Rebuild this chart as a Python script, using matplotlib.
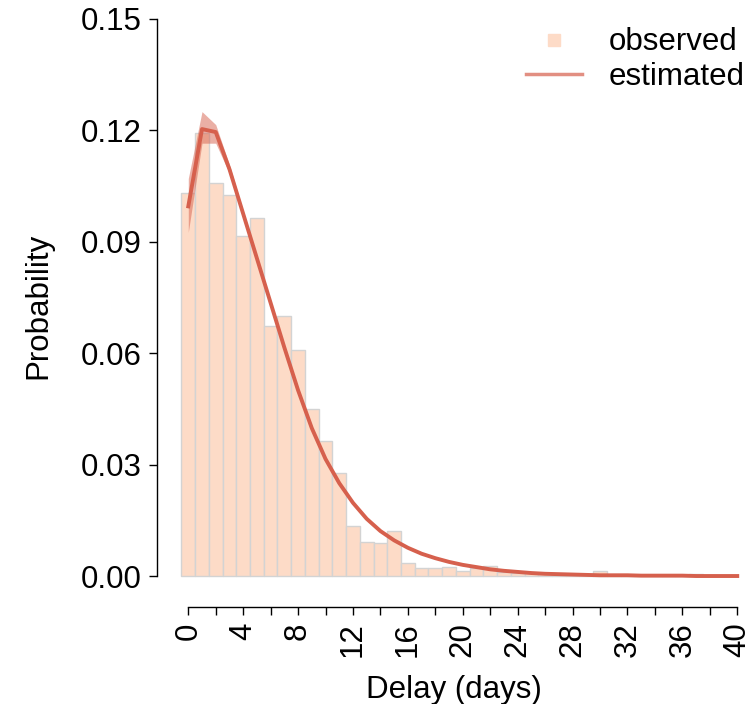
import matplotlib
matplotlib.use('Agg')
import matplotlib.pyplot as plt
from matplotlib.lines import Line2D
import numpy as np

plt.rcParams['font.family'] = ['Liberation Sans', 'DejaVu Sans']

# observed delay distribution (one bar per day)
days_obs = np.arange(0, 39)
observed = [0.1031, 0.1192, 0.1059, 0.1026, 0.0914, 0.0963, 0.0674, 0.0701,
            0.0609, 0.0449, 0.0364, 0.0278, 0.0135, 0.0091, 0.0088, 0.0120,
            0.0036, 0.0022, 0.0021, 0.0023, 0.0013, 0.0021, 0.0027, 0.0012,
            0.0009, 0.0007, 0.0005, 0.0004, 0.0003, 0.0003, 0.0014, 0.0002,
            0.0002, 0.0001, 0.0001, 0.0002, 0.0002, 0.0005, 0.0002]

# estimated distribution, evaluated on integer days
days_est = np.arange(0, 41)
estimated = [0.0995, 0.1203, 0.1195, 0.1095, 0.0975, 0.0855, 0.0735, 0.0615,
             0.0500, 0.0398, 0.0315, 0.0250, 0.0197, 0.0154, 0.0121, 0.0096,
             0.0076, 0.0060, 0.0048, 0.0038, 0.0030, 0.0024, 0.0018, 0.0014,
             0.0011, 0.0008, 0.0006, 0.0005, 0.0004, 0.0003, 0.0002, 0.0002,
             0.0002, 0.0001, 0.0001, 0.0001, 0.0001, 0.0000, 0.0000, 0.0000,
             0.0000]

# uncertainty band (only visible over the first days)
days_band = np.arange(0, 6)
band_low = [0.0925, 0.1165, 0.1165, 0.1083, 0.0967, 0.0849]
band_high = [0.1070, 0.1250, 0.1215, 0.1107, 0.0983, 0.0861]

y_ticks = [0.00, 0.03, 0.06, 0.09, 0.12, 0.15]
x_ticks = np.arange(0, 41, 2)

cor_barra = '#FDDBC7'
cor_linha = '#D6604D'

fig = plt.figure(figsize=(7.51, 7.04), dpi=100)
ax = fig.add_axes([157 / 751, (704 - 607) / 704, (750 - 157) / 751, (607 - 5) / 704])

ax.bar(days_obs, observed, width=1.0, color=cor_barra, edgecolor='#D3D3D3',
       linewidth=1.0, zorder=1)
ax.fill_between(days_band, band_low, band_high, color=cor_linha, alpha=0.5,
                linewidth=0, zorder=2)
ax.plot(days_est, estimated, color=cor_linha, linewidth=2.8, zorder=3)

ax.set_xlim(-2.28, 40.93)
ax.set_ylim(-0.00834, 0.1537)

# eixos no estilo do R (destacados)
for lado in ['top', 'right']:
    ax.spines[lado].set_visible(False)
ax.spines['left'].set_bounds(0, 0.15)
ax.spines['bottom'].set_bounds(0, 40)
ax.spines['left'].set_linewidth(1.0)
ax.spines['bottom'].set_linewidth(1.0)

ax.set_yticks(y_ticks)
ax.set_yticklabels([f'{v:.2f}' for v in y_ticks])
ax.set_xticks(x_ticks)
ax.set_xticklabels([str(v) if v % 4 == 0 else '' for v in x_ticks], rotation=90)
ax.tick_params(axis='both', direction='out', length=6, width=1.0,
               labelsize=22.5, pad=5)

ax.set_xlabel('Delay (days)', fontsize=22.5, labelpad=12.5)
ax.set_ylabel('Probability', fontsize=22.5, labelpad=20)

handles = [
    Line2D([], [], marker='s', linestyle='none', markersize=9,
           markerfacecolor=cor_barra, markeredgecolor=cor_barra),
    Line2D([], [], color=cor_linha, alpha=0.7, linewidth=2.5),
]
ax.legend(handles, ['observed', 'estimated'], loc='upper right', frameon=False,
          fontsize=22.5, handlelength=1.8, handletextpad=0.85, labelspacing=0.13,
          borderpad=0, borderaxespad=0, bbox_to_anchor=(0.992, 0.961),
          bbox_transform=fig.transFigure)

fig.savefig('out.png', dpi=100)
